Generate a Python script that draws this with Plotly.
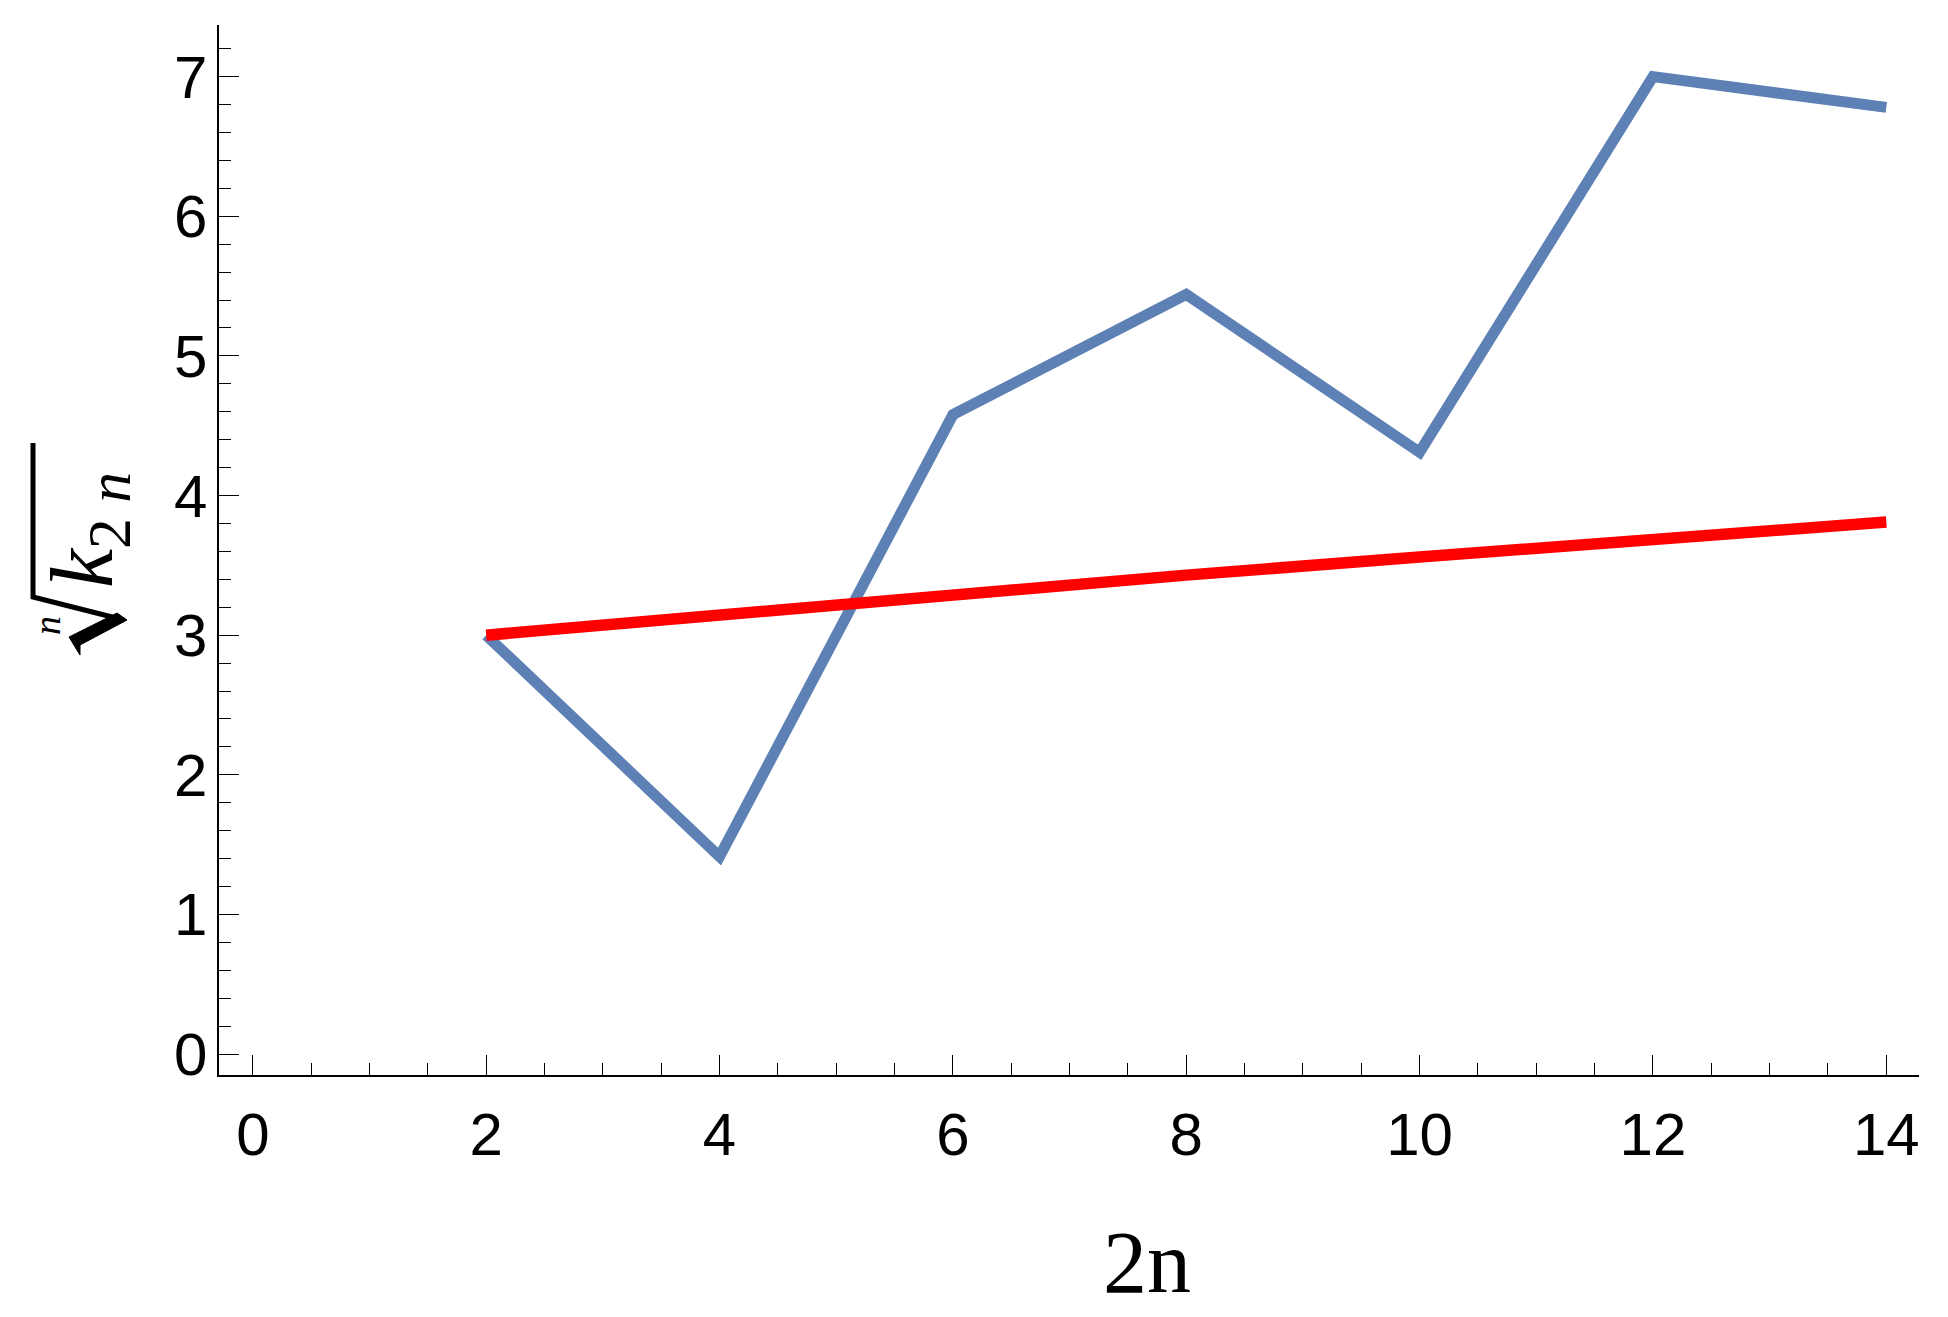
import plotly.graph_objects as go

# values
n2 = [2, 4, 6, 8, 10, 12, 14]
root_k = [3.0, 1.414, 4.58, 5.44, 4.31, 7.0, 6.78]
bound = [3.0, 3.15, 3.30, 3.43, 3.56, 3.68, 3.81]

x_ticks = [0, 2, 4, 6, 8, 10, 12, 14]
y_ticks = [0, 1, 2, 3, 4, 5, 6, 7]

# page has an 8px body margin, so the figure is 8px smaller than the window
OFF = 8
W, H = 1948 - OFF, 1317 - OFF
L, R, T, B = 219 - OFF, 29, 25 - OFF, 242
pw, ph = W - L - R, H - T - B


def px(p):
    return (p - OFF - L) / pw


def py(p):
    return 1 - (p - OFF - T) / ph


fig = go.Figure()
fig.add_trace(go.Scatter(x=n2, y=root_k, mode="lines",
                         line=dict(color="#5E81B5", width=11)))
fig.add_trace(go.Scatter(x=n2, y=bound, mode="lines",
                         line=dict(color="#FF0000", width=11.5)))

tick_font = dict(family="Liberation Sans, Arial", size=60, color="black")
serif = "Liberation Serif, Times New Roman"

fig.update_layout(
    width=W, height=H,
    margin=dict(l=L, r=R, t=T, b=B, autoexpand=False),
    plot_bgcolor="white", paper_bgcolor="white",
    showlegend=False,
    xaxis=dict(
        range=[-0.29, 14.28], tickvals=x_ticks, ticktext=[str(v) for v in x_ticks],
        showgrid=False, zeroline=False, showline=True, linecolor="black", linewidth=1.5,
        ticks="inside", ticklen=20, tickwidth=1.2, tickcolor="black",
        minor=dict(ticks="inside", ticklen=12, tickwidth=1.2, tickcolor="black",
                   tick0=0, dtick=0.5, showgrid=False),
        tickfont=tick_font, ticklabelstandoff=6, automargin=False,
    ),
    yaxis=dict(
        range=[-0.15, 7.37], tickvals=y_ticks, ticktext=[str(v) for v in y_ticks],
        showgrid=False, zeroline=False, showline=True, linecolor="black", linewidth=1.5,
        ticks="inside", ticklen=20, tickwidth=1.2, tickcolor="black",
        minor=dict(ticks="inside", ticklen=12, tickwidth=1.2, tickcolor="black",
                   tick0=0, dtick=0.2, showgrid=False),
        tickfont=tick_font, ticklabelstandoff=-2, automargin=False,
    ),
)

# x axis title
fig.add_annotation(
    text="2n", xref="paper", yref="paper",
    x=px(1147), y=py(1262),
    showarrow=False, xanchor="center", yanchor="middle",
    font=dict(family=serif, size=88, color="black"),
)

# y axis title: n-th root of k_{2n}, radical drawn as shapes
fig.add_annotation(
    text="<i>k</i><sub>2 <i>n</i></sub>",
    xref="paper", yref="paper", x=px(88), y=py(530),
    showarrow=False, textangle=-90, xanchor="center", yanchor="middle",
    font=dict(family=serif, size=88, color="black"),
)
fig.add_annotation(
    text="<i>n</i>",
    xref="paper", yref="paper", x=px(47), y=py(626),
    showarrow=False, textangle=-90, xanchor="center", yanchor="middle",
    font=dict(family=serif, size=38, color="black"),
)


def path(points, close=False):
    s = "M" + " L".join(f"{px(a)},{py(b)}" for a, b in points)
    return s + (" Z" if close else "")


fig.add_shape(type="path", xref="paper", yref="paper",
              path=path([(33, 443), (33, 597), (124, 620)]),
              line=dict(color="black", width=5))
fig.add_shape(type="path", xref="paper", yref="paper",
              path=path([(127, 620), (117, 613), (69, 637), (80, 655), (80, 645)], close=True),
              line=dict(color="black", width=1), fillcolor="black")

fig.write_html("out.html")
